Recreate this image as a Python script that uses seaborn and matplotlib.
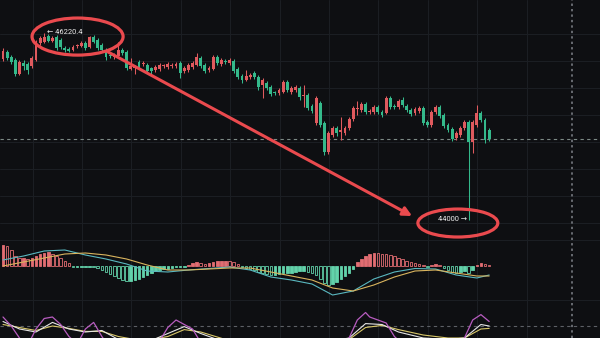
import numpy as np
import pandas as pd
import matplotlib
matplotlib.use("Agg")
import matplotlib.pyplot as plt
import seaborn as sns
from matplotlib.patches import Ellipse

# ---------------- data ----------------
opens = [45911, 45995, 45935, 45900, 45733, 45864, 45852, 45828, 45900, 46101,
         46113, 46185, 46125, 46173, 46137, 46042, 46030, 46018, 46062, 46066,
         46101, 46054, 46173, 46137, 46078, 46018, 45959, 45935, 45947, 46018,
         45995, 45793, 45805, 45876, 45852, 45840, 45805, 45781, 45793, 45825,
         45816, 45828, 45828, 45864, 45769, 45781, 45816, 45840, 45923, 45840,
         45781, 45793, 45935, 45852, 45888, 45864, 45888, 45793, 45710, 45662,
         45698, 45745, 45698, 45603, 45626, 45579, 45511, 45508, 45520, 45638,
         45520, 45543, 45567, 45472, 45484, 45353, 45151, 45389, 45151, 44807,
         45009, 45092, 45045, 45033, 45092, 45199, 45318, 45306, 45377, 45282,
         45282, 45341, 45282, 45270, 45448, 45353, 45341, 45425, 45353, 45306,
         45270, 45294, 45330, 45163, 45128, 45282, 45341, 45246, 45128, 45080,
         44973, 45009, 45092, 45163, 44926, 45128, 45270, 45187, 45068]
closes = [46006, 45923, 45876, 45733, 45876, 45828, 45781, 45923, 46113, 46161,
          46173, 46125, 46161, 46042, 46054, 46018, 46012, 46054, 46068, 46101,
          46042, 46173, 46113, 46042, 46018, 45935, 45947, 45959, 46018, 45983,
          45805, 45828, 45816, 45816, 45864, 45769, 45769, 45816, 45840, 45831,
          45852, 45840, 45852, 45745, 45805, 45840, 45864, 45935, 45828, 45769,
          45805, 45935, 45864, 45900, 45876, 45900, 45769, 45698, 45662, 45710,
          45721, 45698, 45579, 45662, 45567, 45496, 45505, 45543, 45638, 45543,
          45567, 45579, 45460, 45484, 45330, 45294, 45448, 45128, 44807, 45033,
          45092, 45033, 45068, 45092, 45199, 45330, 45330, 45377, 45282, 45294,
          45341, 45282, 45246, 45448, 45341, 45341, 45413, 45365, 45306, 45258,
          45318, 45330, 45151, 45128, 45282, 45341, 45235, 45116, 45068, 44961,
          45033, 45092, 45163, 44926, 45163, 45270, 45187, 44950, 44961]
highs = [46042, 46018, 45959, 45923, 45900, 45900, 45876, 45947, 46137, 46185,
         46220.4, 46208, 46185, 46196, 46161, 46066, 46054, 46078, 46090, 46125,
         46125, 46185, 46196, 46161, 46101, 46042, 45983, 45983, 46113, 46042,
         46018, 45923, 45840, 45900, 45888, 45864, 45816, 45840, 45864, 45852,
         45876, 45864, 45876, 45888, 45828, 45864, 45888, 45983, 45947, 45864,
         45828, 45959, 45959, 45923, 45911, 45923, 45911, 45816, 45733, 45781,
         45745, 45769, 45721, 45686, 45650, 45603, 45531, 45567, 45662, 45662,
         45591, 45603, 45591, 45603, 45508, 45377, 45472, 45413, 45175, 45056,
         45116, 45116, 45223, 45116, 45223, 45353, 45413, 45401, 45401, 45318,
         45365, 45365, 45306, 45472, 45472, 45377, 45436, 45460, 45377, 45330,
         45341, 45353, 45353, 45187, 45306, 45365, 45365, 45270, 45151, 45104,
         45056, 45116, 45187, 45187, 45187, 45365, 45294, 45211, 45092]
lows = [45888, 45900, 45852, 45710, 45721, 45781, 45733, 45805, 45888, 46078,
        46101, 46113, 46113, 46018, 46030, 45995, 45995, 46006, 46042, 46054,
        46018, 46042, 46101, 46018, 45995, 45900, 45923, 45911, 45935, 45959,
        45781, 45781, 45733, 45793, 45828, 45757, 45710, 45757, 45769, 45805,
        45793, 45805, 45805, 45686, 45745, 45757, 45793, 45828, 45805, 45745,
        45757, 45781, 45840, 45828, 45852, 45840, 45745, 45674, 45626, 45650,
        45674, 45674, 45543, 45448, 45543, 45472, 45484, 45484, 45508, 45520,
        45496, 45520, 45425, 45341, 45306, 45270, 45128, 45104, 44772, 44784,
        44985, 44997, 44950, 45009, 45068, 45175, 45246, 45282, 45258, 45258,
        45258, 45258, 45223, 45258, 45318, 45318, 45318, 45341, 45282, 45235,
        45246, 45270, 45128, 45104, 45104, 45258, 45211, 45092, 45045, 44938,
        44950, 44985, 45068, 44000, 44795, 45104, 45163, 44914, 44938]

macd_hist = [42, 40, 32, 20, 16, 16, 14, 16, 20, 24, 26, 28, 24, 20, 16, 10, 6,
             -2, -2, -2, -2, -1, -2, -4, -8, -12, -16, -20, -24, -28, -30, -29,
             -27, -25, -22, -18, -14, -10, -8, -6, -5, -4, -2, -2, -1, 2, 6, 8,
             6, 4, 6, 8, 10, 10, 11, 10, 8, 4, -2, -4, -6, -8, -12, -14, -16,
             -18, -18, -16, -14, -14, -14, -12, -10, -10, -12, -14, -18, -26,
             -34, -38, -36, -32, -26, -20, -14, -6, 8, 14, 20, 24, 27, 26, 25,
             24, 22, 20, 17, 14, 10, 8, 6, 5, 3, -2, 2, 4, 2, -4, -8, -12, -14,
             -12, -10, -14, -8, 2, 6, 4, 2]

line_idx = [0, 5, 10, 15, 20, 25, 30, 35, 40, 45, 50, 55, 60, 65, 70, 75, 80,
            85, 90, 95, 100, 105, 110, 115, 118]
macd_dif = [12, 20, 30, 32, 22, 14, 4, -10, -12, -8, -5, -2, -8, -22, -28, -36,
            -58, -50, -26, -12, -5, -6, -18, -24, -18]
macd_dea = [0, 8, 16, 24, 26, 22, 14, 2, -8, -8, -6, -4, -4, -12, -20, -28,
            -44, -50, -38, -22, -10, -8, -14, -20, -20]

j_idx = [0, 2, 4, 6, 8, 10, 12, 14, 16, 18, 20, 22, 24, 26, 30, 34, 38, 40, 42,
         44, 46, 48, 52, 58, 64, 68, 72, 76, 80, 84, 86, 88, 89, 91, 93, 95, 97,
         100, 103, 106, 109, 112, 114, 116, 118]
kdj_j = [110, 80, 40, 15, 70, 105, 110, 85, 45, 20, 70, 92, 45, 5, -10, 0, 30,
         75, 100, 85, 70, 25, -5, -10, 0, 20, 15, 0, 10, 40, 100, 125, 110, 100,
         90, 45, 20, 15, 30, 35, 10, 40, 100, 118, 95]
kd_idx = [0, 4, 8, 12, 16, 20, 24, 28, 34, 40, 44, 48, 54, 62, 70, 78, 84, 88,
          92, 96, 102, 108, 112, 116, 118]
kdj_k = [95, 70, 60, 92, 70, 60, 65, 35, 20, 55, 78, 55, 25, 20, 30, 25, 40, 88,
         85, 60, 40, 35, 40, 85, 80]
kdj_d = [85, 75, 65, 80, 72, 62, 62, 45, 30, 45, 68, 60, 35, 25, 28, 27, 35, 75,
         82, 68, 50, 40, 40, 70, 72]

# ---------------- style ----------------
BG = "#0e0f12"
GRID = "#1c1f24"
RED = "#e05a5e"
GREEN = "#34b98b"
HRED = "#e26d72"
HGREEN = "#62d2aa"
MARK = "#ea4a4e"

sns.set_theme(style="dark", rc={"axes.facecolor": BG, "figure.facecolor": BG})
plt.rcParams["font.family"] = ["Roboto", "DejaVu Sans"]

W, H = 600, 338
fig = plt.figure(figsize=(6.0, 3.38), dpi=100)
fig.patch.set_facecolor(BG)

# background grid (pixel space)
bg = fig.add_axes([0, 0, 1, 1])
bg.set_xlim(0, W)
bg.set_ylim(H, 0)
bg.set_facecolor(BG)
bg.axis("off")
for gx in np.arange(32.5, 560, 49.4):
    bg.axvline(gx, color=GRID, lw=0.7, zorder=0)
for gy in [34, 61, 88, 115, 142, 169, 196, 223, 240, 300]:
    bg.axhline(gy, color=GRID, lw=0.7, zorder=0)
bg.axvline(572, color="#686b71", lw=1.4, ls=(0, (1.2, 1.6)), zorder=1)

# shared x scale: candle index
xlim = (-3 / 4.12, (W - 3) / 4.12)

# main price axes
ax = fig.add_axes([0, 0, 1, 1], facecolor="none")
ax.set_xlim(*xlim)
ax.set_ylim(46612.2 - 11.874 * H, 46612.2)
ax.axis("off")

o = np.array(opens, float)
c = np.array(closes, float)
hi = np.array(highs, float)
lo = np.array(lows, float)
idx = np.arange(len(o))
up = c >= o
cols = np.where(up, RED, GREEN)
ax.vlines(idx, lo, hi, colors=cols, lw=0.75, zorder=3)
body_b = np.minimum(o, c)
body_h = np.maximum(np.abs(c - o), 12)
ax.bar(idx, body_h, bottom=body_b, width=0.7, color=cols, linewidth=0, zorder=4)

# last price dashed line
ax.axhline(c[-1], color="#7d8a86", lw=0.8, ls=(0, (3, 3)), zorder=2)

# high / low labels
ih = int(np.argmax(hi))
il = int(np.argmin(lo))
ax.text(ih + 0.6, hi[ih], "\u2190 " + f"{hi[ih]:.1f}", color="#ededed",
        fontsize=5.4, ha="left", va="center", zorder=6)
ax.text(il - 0.3, lo[il], f"{lo[il]:.0f} \u2192", color="#ededed",
        fontsize=5.4, ha="right", va="center", zorder=6)

# annotations: ellipses + arrow
ax.add_patch(Ellipse((18.1, 46178), width=22.1, height=440, fill=False,
                     ec=MARK, lw=2.3, zorder=7))
ax.add_patch(Ellipse((110.4, 43964), width=19.4, height=332, fill=False,
                     ec=MARK, lw=2.3, zorder=7))
ax.annotate("", xy=(99.3, 44047), xytext=(25.5, 45995),
            arrowprops=dict(arrowstyle="-|>", color=MARK, lw=2.2,
                            mutation_scale=13, shrinkA=0, shrinkB=0),
            zorder=7)

# MACD axes
ax2 = fig.add_axes([0, 0, 1, 1], facecolor="none")
ax2.set_xlim(*xlim)
ax2.set_ylim(-144, 532)
ax2.axis("off")
hist = np.array(macd_hist, float)
prev = np.r_[hist[0], hist[:-1]]
for i, v in enumerate(hist):
    colr = HRED if v >= 0 else HGREEN
    filled = v >= prev[i]
    ax2.bar(i, v, width=0.62, color=colr if filled else "none",
            edgecolor=colr, linewidth=0.6, zorder=3)
macd_df = pd.DataFrame({"i": line_idx, "dif": macd_dif, "dea": macd_dea})
sns.lineplot(data=macd_df, x="i", y="dif", ax=ax2, color="#5ab8c0", lw=0.8, zorder=4)
sns.lineplot(data=macd_df, x="i", y="dea", ax=ax2, color="#d9b45e", lw=0.8, zorder=4)
ax2.axis("off")

# KDJ axes
ax3 = fig.add_axes([0, 0, 1, 1], facecolor="none")
ax3.set_xlim(*xlim)
ax3.set_ylim(40, 80 + 326 / 0.3)
ax3.axis("off")
ax3.axhline(80, color="#5d6066", lw=0.8, ls=(0, (3, 3)), zorder=2)
j_df = pd.DataFrame({"i": j_idx, "j": kdj_j})
kd_df = pd.DataFrame({"i": kd_idx, "k": kdj_k, "d": kdj_d})
sns.lineplot(data=kd_df, x="i", y="d", ax=ax3, color="#d9c86a", lw=0.8)
sns.lineplot(data=kd_df, x="i", y="k", ax=ax3, color="#e6e6e6", lw=0.8)
sns.lineplot(data=j_df, x="i", y="j", ax=ax3, color="#b85cc0", lw=0.9)
ax3.axis("off")

fig.savefig("out.png", dpi=100, facecolor=BG)
